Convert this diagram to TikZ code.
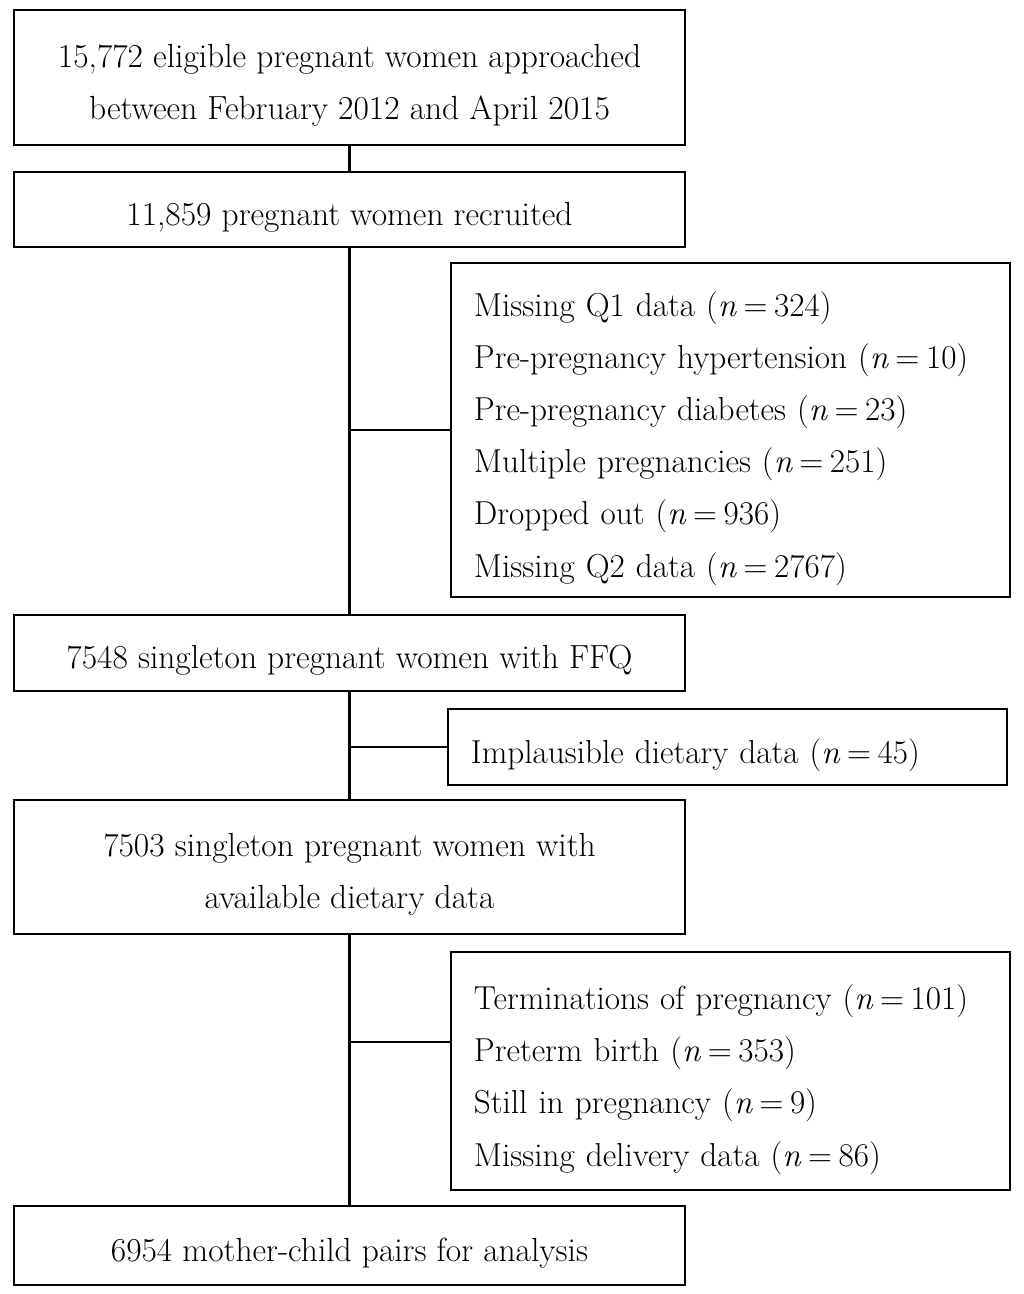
\documentclass[tikz,border=0pt]{standalone}
\usepackage{tikz}
\usetikzlibrary{calc,positioning}

\newcommand{\nval}[1]{(\textit{n}\hspace{0.2em}=\hspace{0.2em}#1)}
\newcommand{\topstrut}{\rule{0pt}{27pt}}

\tikzset{
  mainbox/.style={draw, line width=1.6pt, minimum width=16.775cm, inner sep=0pt,
    align=center, font=\fontsize{23.8}{37}\selectfont},
  sidebox/.style={draw, line width=1.6pt, text width=12.825cm, inner xsep=0.575cm,
    inner ysep=0pt, align=left, font=\fontsize{23.6}{37}\selectfont,
    execute at begin node={\rule{0pt}{30pt}}},
}

\begin{document}
\begin{tikzpicture}[x=0.025cm, y=-0.025cm, line width=1.6pt]
   \useasboundingbox (0,0) rectangle (1024,1294);
   \node[mainbox, minimum height=3.375cm] (approached) at (349.5,77.5)
     {\topstrut 15,772 eligible pregnant women approached\\between February 2012 and April 2015};
   \node[mainbox, minimum height=1.875cm] (recruited) at (349.5,209.5)
     {\topstrut 11,859 pregnant women recruited};
   \node[sidebox, minimum height=8.35cm] (excl1) at (730.5,430)
     {Missing Q1 data \nval{324}\\
      Pre-pregnancy hypertension \nval{10}\\
      Pre-pregnancy diabetes \nval{23}\\
      Multiple pregnancies \nval{251}\\
      Dropped out \nval{936}\\
      Missing Q2 data \nval{2767}};
   \node[mainbox, minimum height=1.9cm] (ffq) at (349.5,653)
     {\topstrut 7548 singleton pregnant women with FFQ};
   \node[sidebox, minimum height=1.9cm] (excl2) at (727.5,747)
     {Implausible dietary data \nval{45}};
   \node[mainbox, minimum height=3.35cm] (dietary) at (349.5,867)
     {\topstrut 7503 singleton pregnant women with\\available dietary data};
   \node[sidebox, minimum height=5.95cm] (excl3) at (730.5,1071)
     {Terminations of pregnancy \nval{101}\\
      Preterm birth \nval{353}\\
      Still in pregnancy \nval{9}\\
      Missing delivery data \nval{86}};
   \node[mainbox, minimum height=1.975cm] (pairs) at (349.5,1245.5)
     {\topstrut 6954 mother-child pairs for analysis};

   \coordinate (b3) at (350,1042);

  \path[draw]
    (approached) edge (recruited)
    (recruited) edge (ffq)
    (ffq) edge (dietary)
    (dietary) edge (pairs)
    (excl1.west) edge (excl1.west -| recruited.south)
    (excl2.west) edge (excl2.west -| ffq.south)
    (b3 -| excl3.west) edge (b3);
  \end{tikzpicture}
\end{document}
